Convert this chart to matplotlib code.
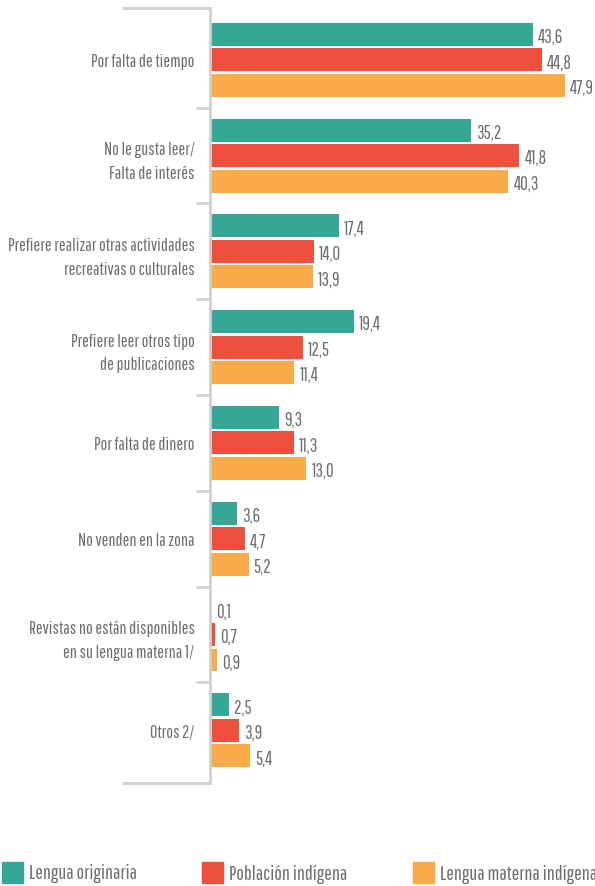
import matplotlib.pyplot as plt
from matplotlib.patches import Rectangle
import numpy as np

plt.rcParams['font.family'] = ['Pathway Gothic One', 'Barlow Condensed', 'DejaVu Sans']

categories = [
    'Por falta de tiempo',
    'No le gusta leer/\nFalta de interés',
    'Prefiere realizar otras actividades\nrecreativas o culturales',
    'Prefiere leer otros tipo\nde publicaciones',
    'Por falta de dinero',
    'No venden en la zona',
    'Revistas no están disponibles\nen su lengua materna 1/',
    'Otros 2/',
]
series_names = ['Lengua originaria', 'Población indígena', 'Lengua materna indígena']
lengua_originaria = [43.6, 35.2, 17.4, 19.4, 9.3, 3.6, 0.1, 2.5]
poblacion_indigena = [44.8, 41.8, 14.0, 12.5, 11.3, 4.7, 0.7, 3.9]
lengua_materna = [47.9, 40.3, 13.9, 11.4, 13.0, 5.2, 0.9, 5.4]

colors = ['#36a795', '#ef4f3d', '#f9ab4a']
text_color = '#6d6e71'
axis_color = '#d0d0d0'

W, H = 595, 887
fig = plt.figure(figsize=(W / 100, H / 100), dpi=100)
ax = fig.add_axes([210 / W, 1 - 784 / H, (W - 210) / W, (784 - 9) / H])

y = np.arange(len(categories))
bar_h = 0.24
step = 0.266
for k, vals in enumerate([lengua_originaria, poblacion_indigena, lengua_materna]):
    pos = y + (k - 1) * step
    ax.barh(pos, vals, height=bar_h, color=colors[k], linewidth=0)
    for p, v in zip(pos, vals):
        ax.text(v + 0.7, p + 0.02, f'{v:.1f}'.replace('.', ','), va='center', ha='left',
                fontsize=13.5, color=text_color)

ax.set_xlim(0, 52)
ax.set_ylim(7.55, -0.54)

for s in ['top', 'right', 'bottom']:
    ax.spines[s].set_visible(False)
ax.spines['left'].set_color(axis_color)
ax.spines['left'].set_linewidth(2)

ax.set_xticks([])
ax.set_yticks(y)
ax.set_yticklabels(categories, fontsize=13, color=text_color, linespacing=1.6)
ax.tick_params(axis='y', length=0, pad=11)
ax.set_yticks(y[:-1] + 0.5, minor=True)
ax.tick_params(axis='y', which='minor', length=10, width=2, color=axis_color, direction='out')

# long caps at top and bottom of the axis
for yy in [0, 1]:
    ax.plot([-88 / 385, 0], [yy, yy], transform=ax.transAxes, color=axis_color,
            linewidth=2, clip_on=False, solid_capstyle='butt')

# legend
leg_x = [2, 202, 413]
for k, name in enumerate(series_names):
    fig.patches.append(Rectangle((leg_x[k] / W, 1 - 884 / H), 21 / W, 21 / H,
                                 transform=fig.transFigure, color=colors[k]))
    fig.text((leg_x[k] + 27) / W, 1 - 874 / H, name, fontsize=14.5, color=text_color,
             va='center', ha='left')

fig.savefig('out.png', dpi=100)
